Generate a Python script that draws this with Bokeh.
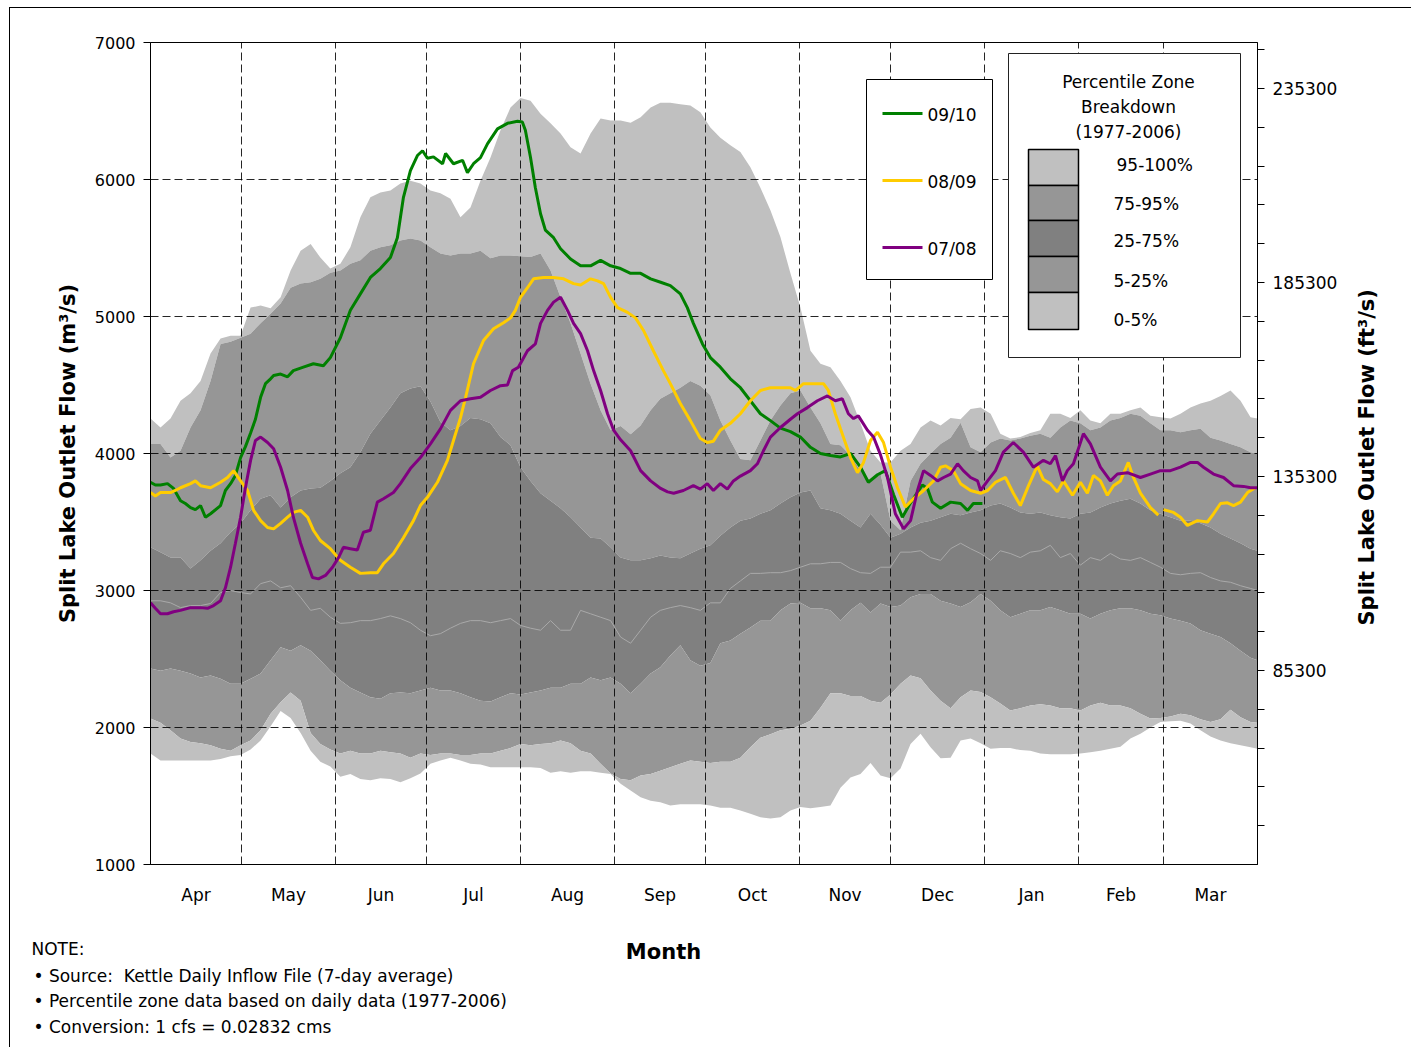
from math import pi
from bokeh.plotting import figure
from bokeh.layouts import column, row
from bokeh.models import (Range1d, LinearAxis, FixedTicker, Label, ColumnDataSource,
                          BasicTickFormatter)
from bokeh.embed import file_html
from bokeh.resources import INLINE

# ---------------- data ----------------
MONTHS = ["Apr", "May", "Jun", "Jul", "Aug", "Sep", "Oct", "Nov", "Dec", "Jan", "Feb", "Mar"]
MONTH_STARTS = [30, 61, 91, 122, 153, 183, 214, 244, 275, 306, 334]
MONTH_MIDS = [15.0, 45.5, 76.0, 106.5, 137.5, 168.0, 198.5, 229.0, 259.5, 290.5, 320.0, 349.5]
LEFT_TICKS = [1000, 2000, 3000, 4000, 5000, 6000, 7000]
RIGHT_TICKS = [35300, 85300, 135300, 185300, 235300]
RIGHT_MINOR = [45300, 55300, 65300, 75300, 95300, 105300, 115300, 125300, 145300, 155300,
               165300, 175300, 195300, 205300, 215300, 225300, 245300]
CMS_PER_CFS = 0.02832

BAND_DAYS = [0.0, 3.3, 6.6, 9.9, 13.2, 16.5, 19.8, 23.1, 26.4, 29.7,
             33.0, 36.3, 39.6, 42.9, 46.2, 49.5, 52.8, 56.0, 59.3, 62.6,
             65.9, 69.2, 72.5, 75.8, 79.1, 82.4, 85.7, 89.0, 92.3, 95.6,
             98.9, 102.2, 105.5, 108.8, 112.1, 115.4, 118.7, 122.0, 125.3, 128.6,
             131.9, 135.2, 138.5, 141.8, 145.1, 148.4, 151.7, 155.0, 158.3, 161.6,
             164.9, 168.1, 171.4, 174.7, 178.0, 181.3, 184.6, 187.9, 191.2, 194.5,
             197.8, 201.1, 204.4, 207.7, 211.0, 214.3, 217.6, 220.9, 224.2, 227.5,
             230.8, 234.1, 237.4, 240.7, 244.0, 247.3, 250.6, 253.9, 257.2, 260.5,
             263.8, 267.1, 270.4, 273.7, 277.0, 280.2, 283.5, 286.8, 290.1, 293.4,
             296.7, 300.0, 303.3, 306.6, 309.9, 313.2, 316.5, 319.8, 323.1, 326.4,
             329.7, 333.0, 336.3, 339.6, 342.9, 346.2, 349.5, 352.8, 356.1, 359.4,
             362.7, 365.0]

P100 = [4255, 4190, 4255, 4385, 4440, 4530, 4730, 4840, 4860, 4860,
        5065, 5080, 5060, 5140, 5335, 5480, 5530, 5430, 5350, 5385,
        5505, 5725, 5870, 5905, 5920, 5970, 5990, 5970, 5920, 5900,
        5860, 5725, 5795, 5990, 6160, 6360, 6525, 6595, 6575, 6480,
        6410, 6335, 6235, 6190, 6335, 6445, 6430, 6430, 6415, 6455,
        6525, 6560, 6560, 6550, 6540, 6490, 6380, 6305, 6250, 6200,
        6090, 5940, 5775, 5580, 5315, 5065, 4750, 4655, 4630, 4530,
        4410, 4220, 4020, 3935, 3935, 4020, 4070, 4190, 4240, 4205,
        4260, 4250, 4325, 4335, 4290, 4145, 4110, 4120, 4150, 4170,
        4290, 4290, 4260, 4315, 4240, 4220, 4290, 4290, 4315, 4335,
        4275, 4265, 4255, 4290, 4335, 4365, 4385, 4420, 4460, 4385,
        4265, 4255]

P95 = [4070, 4070, 3970, 4020, 4190, 4315, 4530, 4800, 4815, 4845,
       4875, 4950, 5020, 5095, 5210, 5240, 5250, 5275, 5320, 5335,
       5385, 5410, 5480, 5505, 5520, 5555, 5570, 5555, 5505, 5460,
       5445, 5460, 5460, 5480, 5425, 5445, 5445, 5440, 5435, 5460,
       5335, 5140, 4950, 4730, 4510, 4315, 4170, 4200, 4140, 4205,
       4315, 4400, 4440, 4480, 4530, 4495, 4425, 4240, 4095, 3960,
       3950, 4095, 4240, 4350, 4440, 4460, 4335, 4220, 4070, 4060,
       3985, 3875, 3800, 3855, 3510, 3440, 3800, 3925, 4000, 4070,
       4115, 4225, 4045, 4010, 4080, 4110, 4095, 4110, 4130, 4145,
       4115, 4190, 4240, 4220, 4170, 4190, 4240, 4260, 4290, 4275,
       4220, 4170, 4170, 4155, 4170, 4180, 4115, 4095, 4070, 4045,
       4010, 4000]

P75 = [3315, 3280, 3240, 3240, 3160, 3220, 3290, 3345, 3425, 3490,
       3585, 3670, 3695, 3605, 3680, 3730, 3745, 3750, 3800, 3855,
       3900, 4010, 4145, 4240, 4335, 4440, 4475, 4490, 4380, 4230,
       4170, 4200, 4260, 4250, 4220, 4120, 4060, 3900, 3800, 3710,
       3655, 3600, 3535, 3460, 3385, 3380, 3315, 3240, 3220, 3220,
       3235, 3255, 3240, 3235, 3270, 3305, 3330, 3400, 3460, 3510,
       3525, 3560, 3585, 3635, 3680, 3715, 3730, 3600, 3585, 3560,
       3510, 3460, 3560, 3480, 3385, 3415, 3460, 3495, 3510, 3535,
       3560, 3550, 3570, 3585, 3620, 3635, 3605, 3570, 3560, 3570,
       3550, 3535, 3525, 3560, 3570, 3605, 3635, 3655, 3670, 3635,
       3585, 3560, 3535, 3510, 3510, 3490, 3460, 3415, 3380, 3345,
       3305, 3290]

P50 = [2925, 2925, 2910, 2875, 2890, 2890, 2905, 2985, 3000, 2985,
       2975, 3050, 3070, 3020, 3035, 2950, 2855, 2870, 2805, 2760,
       2765, 2780, 2780, 2795, 2815, 2795, 2765, 2710, 2670, 2685,
       2725, 2760, 2780, 2780, 2765, 2780, 2795, 2745, 2725, 2710,
       2780, 2710, 2710, 2855, 2830, 2805, 2780, 2660, 2615, 2710,
       2805, 2855, 2875, 2890, 2875, 2855, 2910, 2910, 3015, 3070,
       3125, 3125, 3130, 3130, 3145, 3170, 3195, 3195, 3205, 3205,
       3160, 3130, 3125, 3170, 3170, 3280, 3280, 3290, 3240, 3220,
       3305, 3345, 3305, 3270, 3220, 3290, 3270, 3240, 3280, 3290,
       3330, 3240, 3270, 3185, 3240, 3220, 3270, 3230, 3220, 3240,
       3205, 3170, 3125, 3115, 3125, 3130, 3095, 3070, 3060, 3035,
       3015, 3000]

P25 = [2430, 2415, 2430, 2415, 2395, 2365, 2380, 2355, 2320, 2320,
       2355, 2395, 2490, 2585, 2560, 2600, 2560, 2490, 2415, 2345,
       2290, 2255, 2220, 2210, 2250, 2255, 2250, 2270, 2290, 2270,
       2270, 2250, 2220, 2195, 2190, 2220, 2250, 2240, 2255, 2270,
       2290, 2290, 2320, 2320, 2365, 2345, 2365, 2320, 2250, 2320,
       2395, 2440, 2525, 2600, 2490, 2450, 2470, 2615, 2635, 2685,
       2730, 2780, 2780, 2855, 2905, 2910, 2870, 2870, 2855, 2780,
       2855, 2910, 2840, 2905, 2880, 2890, 2950, 2975, 2975, 2925,
       2905, 2880, 2915, 2975, 2925, 2855, 2805, 2830, 2855, 2855,
       2880, 2855, 2830, 2830, 2795, 2830, 2855, 2870, 2870, 2855,
       2830, 2820, 2795, 2780, 2760, 2710, 2685, 2660, 2615, 2560,
       2510, 2490]

P5 = [2065, 2035, 1980, 1920, 1895, 1885, 1870, 1845, 1830, 1870,
      1905, 1980, 2100, 2185, 2255, 2195, 1960, 1880, 1840, 1810,
      1830, 1810, 1810, 1830, 1820, 1810, 1780, 1810, 1800, 1810,
      1810, 1800, 1800, 1810, 1810, 1830, 1850, 1880, 1870, 1880,
      1885, 1905, 1885, 1830, 1810, 1735, 1665, 1625, 1615, 1650,
      1660, 1685, 1710, 1735, 1760, 1750, 1740, 1750, 1750, 1780,
      1855, 1925, 1950, 1980, 1990, 2015, 2050, 2145, 2250, 2250,
      2230, 2230, 2195, 2180, 2240, 2320, 2380, 2360, 2270, 2195,
      2140, 2220, 2270, 2260, 2220, 2175, 2125, 2140, 2160, 2170,
      2160, 2140, 2140, 2125, 2160, 2180, 2160, 2160, 2140, 2100,
      2065, 2070, 2080, 2100, 2090, 2060, 2040, 2060, 2130, 2075,
      2040, 2035]

P0 = [1810, 1760, 1760, 1760, 1760, 1760, 1760, 1770, 1790, 1800,
      1840, 1905, 2010, 2120, 2070, 1960, 1830, 1750, 1715, 1640,
      1660, 1625, 1615, 1630, 1625, 1600, 1630, 1665, 1735, 1760,
      1780, 1760, 1735, 1730, 1710, 1710, 1710, 1710, 1710, 1705,
      1670, 1680, 1670, 1680, 1680, 1670, 1660, 1590, 1540, 1490,
      1465, 1455, 1430, 1440, 1440, 1440, 1430, 1415, 1415, 1395,
      1370, 1345, 1335, 1345, 1395, 1420, 1410, 1420, 1430, 1560,
      1635, 1660, 1740, 1650, 1630, 1700, 1880, 1955, 1855, 1775,
      1780, 1905, 1920, 1885, 1845, 1850, 1850, 1835, 1830, 1810,
      1805, 1805, 1805, 1810, 1820, 1830, 1845, 1860, 1920, 1955,
      2000, 2040, 2045, 2050, 2030, 1980, 1935, 1905, 1885, 1870,
      1855, 1845]

# 09/10 (green)
G_DAYS = [0, 1.6, 3.3, 5.6, 7.6, 9.9, 11.5, 13.2, 14.8, 16.5,
          18.1, 19.8, 23.1, 24.7, 26.4, 28.0, 29.7, 31.3, 33.0, 34.6,
          36.3, 37.9, 39.6, 40.6, 42.9, 45.2, 47.1, 50.4, 53.7, 57.0,
          59.3, 62.6, 65.9, 69.2, 72.5, 75.8, 79.1, 81.4, 83.4, 85.7,
          88.0, 89.7, 91.3, 93.3, 96.3, 97.3, 99.9, 102.9, 104.5, 106.5,
          108.8, 111.1, 114.4, 117.7, 121.0, 122.6, 123.6, 125.3, 126.9, 128.6,
          130.2, 132.9, 135.2, 138.5, 141.8, 145.1, 148.4, 151.7, 155.0, 158.3,
          161.6, 164.9, 168.2, 171.4, 174.7, 177.0, 179.0, 182.0, 184.6, 187.9,
          191.2, 194.5, 197.8, 201.1, 204.4, 207.7, 211.0, 214.3, 217.6, 220.9,
          224.2, 227.5, 230.8, 234.1, 236.7, 239.7, 242.3, 245.0, 247.9, 250.6,
          254.5, 256.2, 257.8, 260.5, 263.8, 267.1, 269.4, 271.3, 274.3]
G_VALS = [3790, 3770, 3770, 3780, 3745, 3655, 3635, 3605, 3590, 3620,
          3535, 3560, 3620, 3730, 3780, 3840, 3970, 4050, 4150, 4250,
          4410, 4510, 4545, 4570, 4580, 4560, 4605, 4630, 4655, 4640,
          4700, 4845, 5045, 5165, 5285, 5350, 5430, 5575, 5870, 6065,
          6175, 6210, 6155, 6165, 6115, 6190, 6115, 6140, 6050, 6115,
          6160, 6260, 6370, 6410, 6425, 6420, 6360, 6160, 5940, 5750,
          5630, 5575, 5495, 5420, 5370, 5370, 5410, 5370, 5350, 5315,
          5315, 5275, 5250, 5225, 5165, 5065, 4950, 4800, 4700, 4630,
          4545, 4480, 4385, 4290, 4240, 4185, 4160, 4120, 4045, 4000,
          3985, 3975, 4000, 3900, 3790, 3845, 3875, 3700, 3535, 3640,
          3770, 3745, 3645, 3600, 3645, 3635, 3585, 3635, 3635]

# 08/09 (yellow) - one missing day leaves a gap
Y_DAYS = [0, 1.6, 3.3, 6.6, 8.2, 9.9, 13.2, 14.8, 16.5, 19.8,
          23.1, 25.4, 27.4, 29.7, 32.0, 34.0, 36.3, 38.6, 40.6, 42.9,
          45.2, 47.1, 49.5, 51.8, 53.7, 56.0, 59.3, 62.6, 65.9, 69.2,
          72.5, 74.8, 76.8, 80.1, 83.4, 86.7, 89.0, 91.3, 94.6, 97.9,
          99.9, 102.2, 103.9, 106.5, 109.8, 113.1, 116.4, 118.7, 120.3, 122.0,
          124.3, 126.3, 129.6, 132.9, 136.2, 139.5, 141.8, 145.1, 147.4, 149.4,
          151.7, 154.0, 157.3, 159.9, 162.5, 165.8, 169.1, 171.4, 174.7, 178.0,
          181.3, 183.6, 185.6, 187.9, 191.2, 194.5, 197.8, 201.1, 204.4, 207.7,
          211.0, 212.7, 215.3, 218.6, 221.9, 223.5, 225.8, 227.5, 230.8, 233.1,
          235.1, 237.4, 239.7, 241.7, 244.0, 246.3, 248.9, 251.5, 254.9, 258.2,
          260.5, 262.1, 264.7, 267.1, 270.4, 273.7, 276.0, 278.6, 281.9, 284.5,
          286.8, 289.5, 292.4, 294.4, 296.7, 299.0, 301.0, 304.0, 306.6, 308.9,
          310.9, 313.2, 315.5, 317.5, 319.8, 322.4, 324.1, 326.4, 329.7, 332.3,
          333.2, 334.0, 337.3, 339.6, 341.9, 345.2, 348.5, 350.5, 352.8, 355.1,
          357.1, 359.4, 361.7, 364.3]
NAN = float("nan")
Y_VALS = [3715, 3690, 3715, 3715, 3730, 3750, 3780, 3800, 3765, 3750,
          3790, 3825, 3875, 3800, 3730, 3585, 3510, 3460, 3450, 3490,
          3535, 3570, 3585, 3535, 3440, 3365, 3305, 3220, 3170, 3125,
          3130, 3130, 3195, 3270, 3385, 3510, 3620, 3680, 3790, 3950,
          4095, 4260, 4410, 4655, 4825, 4910, 4955, 4990, 5045, 5140,
          5210, 5275, 5285, 5285, 5275, 5240, 5230, 5275, 5260, 5240,
          5140, 5065, 5030, 4990, 4900, 4750, 4605, 4510, 4365, 4240,
          4110, 4080, 4090, 4170, 4220, 4290, 4385, 4460, 4480, 4480,
          4480, 4460, 4510, 4510, 4510, 4460, 4290, 4180, 3970, 3860,
          3935, 4095, 4155, 4080, 3900, 3750, 3610, 3670, 3730, 3800,
          3900, 3910, 3875, 3780, 3730, 3710, 3730, 3790, 3825, 3710,
          3620, 3765, 3910, 3810, 3780, 3720, 3800, 3695, 3790, 3710,
          3840, 3800, 3695, 3765, 3800, 3935, 3825, 3710, 3605, 3550,
          NAN, 3590, 3570, 3535, 3475, 3510, 3500, 3560, 3635, 3640,
          3620, 3645, 3715, 3750]

# 07/08 (purple)
PU_DAYS = [0, 1.6, 3.3, 5.6, 7.6, 9.9, 13.2, 16.5, 18.8, 20.8,
           23.1, 24.7, 26.4, 28.0, 29.7, 31.3, 33.0, 34.6, 36.3, 38.6,
           40.6, 42.9, 45.2, 47.1, 49.5, 51.8, 53.4, 55.4, 57.7, 60.0,
           62.0, 63.6, 65.9, 68.2, 70.2, 72.5, 74.8, 76.8, 80.1, 82.4,
           85.7, 89.0, 92.3, 95.6, 98.9, 102.2, 105.5, 108.8, 112.1, 115.4,
           117.7, 119.4, 121.3, 124.3, 126.9, 128.6, 130.9, 132.9, 135.2, 137.5,
           139.5, 141.8, 144.1, 146.1, 148.4, 150.7, 152.7, 155.0, 158.3, 161.6,
           164.9, 168.2, 170.5, 172.5, 175.7, 179.0, 181.3, 183.6, 185.6, 187.9,
           190.2, 192.2, 194.5, 197.8, 200.1, 202.1, 204.4, 207.7, 211.0, 213.3,
           216.6, 219.9, 223.2, 225.8, 228.1, 230.1, 231.8, 233.4, 236.4, 238.4,
           240.7, 243.0, 245.6, 248.3, 250.6, 252.9, 254.9, 257.2, 259.5, 261.5,
           263.8, 266.1, 268.0, 270.4, 272.7, 273.7, 276.0, 278.6, 281.2, 284.5,
           287.8, 291.1, 294.4, 296.7, 298.4, 300.7, 302.3, 304.3, 307.6, 309.9,
           313.2, 316.5, 318.8, 322.1, 326.4, 329.7, 333.0, 336.3, 339.6, 342.9,
           345.2, 347.2, 350.5, 353.8, 357.1, 360.4, 362.7, 365.0]
PU_VALS = [2910, 2870, 2830, 2830, 2845, 2855, 2875, 2875, 2870, 2890,
           2925, 3020, 3170, 3345, 3535, 3750, 3950, 4095, 4120, 4080,
           4035, 3900, 3730, 3535, 3345, 3195, 3095, 3085, 3110, 3170,
           3240, 3315, 3305, 3295, 3425, 3440, 3645, 3670, 3715, 3780,
           3890, 3970, 4070, 4180, 4315, 4385, 4400, 4410, 4460, 4495,
           4500, 4605, 4630, 4750, 4800, 4950, 5045, 5105, 5140, 5045,
           4950, 4875, 4750, 4605, 4460, 4290, 4170, 4100, 4020, 3875,
           3800, 3745, 3720, 3710, 3730, 3765, 3740, 3780, 3730, 3780,
           3740, 3800, 3835, 3875, 3925, 4020, 4120, 4190, 4250, 4290,
           4335, 4385, 4420, 4385, 4400, 4290, 4255, 4275, 4170, 4120,
           3990, 3825, 3560, 3450, 3510, 3730, 3875, 3840, 3800, 3825,
           3850, 3925, 3875, 3825, 3800, 3730, 3800, 3875, 4010, 4080,
           4010, 3900, 3950, 3925, 3985, 3800, 3875, 3925, 4145, 4070,
           3900, 3800, 3850, 3860, 3825, 3850, 3875, 3875, 3900, 3935,
           3935, 3900, 3850, 3825, 3765, 3760, 3750, 3750]

SERIES_NAMES = ["09/10", "08/09", "07/08"]
ZONE_NAMES = ["95-100%", "75-95%", "25-75%", "5-25%", "0-5%"]
NOTES = ["NOTE:",
         "• Source:\u00a0 Kettle Daily Inflow File (7-day average)",
         "• Percentile zone data based on daily data (1977-2006)",
         "• Conversion: 1 cfs = 0.02832 cms"]

# ---------------- styles / layout ----------------
LIGHT, MID, DARK = "#C0C0C0", "#969696", "#808080"
GREEN, YELLOW, PURPLE = "#008000", "#FFCC00", "#800080"
FONT = "DejaVu Sans"

ORIGIN_X, ORIGIN_Y = 10, 8          # page position of the content (inside the outer border)
FX0, FX1, FY0, FY1 = 150.0, 1257.0, 42.0, 864.0   # frame on the page
XMIN, XMAX, YMIN, YMAX = 0.0, 365.0, 1000.0, 7000.0
MAIN_W, MAIN_H = 1335, 927
SIDE_W = 66
NOTE_H = 112
FRAME_W, FRAME_H = int(FX1 - FX0), int(FY1 - FY0)


def dx(px):
    return XMIN + (px - FX0) / (FX1 - FX0) * (XMAX - XMIN)


def dy(py):
    return YMAX - (py - FY0) / (FY1 - FY0) * (YMAX - YMIN)


p = figure(frame_width=FRAME_W, frame_height=FRAME_H,
           min_border_left=int(FX0 - ORIGIN_X), min_border_top=int(FY0 - ORIGIN_Y),
           min_border_right=MAIN_W - int(FX1 - ORIGIN_X),
           min_border_bottom=MAIN_H - int(FY1 - ORIGIN_Y),
           x_range=Range1d(XMIN, XMAX), y_range=Range1d(YMIN, YMAX),
           output_backend="svg", toolbar_location=None,
           background_fill_color="white", border_fill_color="white")
p.outline_line_color = "black"
p.outline_line_width = 1

# percentile bands
src = ColumnDataSource(dict(d=BAND_DAYS, p0=P0, p5=P5, p25=P25, p50=P50, p75=P75, p95=P95, p100=P100))
p.varea(x="d", y1="p95", y2="p100", source=src, fill_color=LIGHT, level="image")
p.varea(x="d", y1="p75", y2="p95", source=src, fill_color=MID, level="image")
p.varea(x="d", y1="p25", y2="p75", source=src, fill_color=DARK, level="image")
p.varea(x="d", y1="p5", y2="p25", source=src, fill_color=MID, level="image")
p.varea(x="d", y1="p0", y2="p5", source=src, fill_color=LIGHT, level="image")
p.line(x="d", y="p50", source=src, line_color="#A9A9A9", line_width=1, level="image")

# grid
p.xgrid.ticker = FixedTicker(ticks=MONTH_STARTS)
p.ygrid.ticker = FixedTicker(ticks=[2000, 3000, 4000, 5000, 6000])
for g in (p.xgrid, p.ygrid):
    g.grid_line_color = "black"
    g.grid_line_width = 1
    g.grid_line_dash = "8 4"
    g.grid_line_alpha = 0.85

# series lines
p.line(G_DAYS, G_VALS, line_color=GREEN, line_width=3)
p.line(Y_DAYS, Y_VALS, line_color=YELLOW, line_width=3)
p.line(PU_DAYS, PU_VALS, line_color=PURPLE, line_width=3)

# axes
xa = p.xaxis[0]
xa.ticker = FixedTicker(ticks=MONTH_MIDS)
xa.major_label_overrides = {m: n for m, n in zip(MONTH_MIDS, MONTHS)}
xa.major_tick_out = 0
xa.major_tick_in = 0
xa.minor_tick_out = 0
xa.minor_tick_in = 0
xa.major_label_standoff = 20
xa.major_label_text_font = FONT
xa.major_label_text_font_size = "17px"
xa.major_label_text_color = "black"
xa.axis_line_color = "black"

ya = p.yaxis[0]
ya.ticker = FixedTicker(ticks=LEFT_TICKS)
ya.major_tick_out = 7
ya.major_tick_in = 0
ya.minor_tick_out = 0
ya.minor_tick_in = 0
ya.major_label_standoff = 8
ya.major_label_text_font = FONT
ya.major_label_text_font_size = "16px"
ya.major_label_text_color = "black"
ya.axis_line_color = "black"
ya.axis_label = "Split Lake Outlet Flow (m³/s)"
ya.axis_label_text_font = FONT
ya.axis_label_text_font_size = "21px"
ya.axis_label_text_font_style = "bold"
ya.axis_label_text_color = "black"
ya.axis_label_standoff = 12

p.extra_y_ranges = {"cfs": Range1d(YMIN / CMS_PER_CFS, YMAX / CMS_PER_CFS)}
ra = LinearAxis(y_range_name="cfs", ticker=FixedTicker(ticks=RIGHT_TICKS, minor_ticks=RIGHT_MINOR),
                formatter=BasicTickFormatter(use_scientific=False))
ra.major_tick_out = 7
ra.major_tick_in = 0
ra.minor_tick_out = 7
ra.minor_tick_in = 0
ra.major_label_standoff = 8
ra.major_label_text_font = FONT
ra.major_label_text_font_size = "17px"
ra.major_label_text_color = "black"
ra.axis_line_color = "black"
p.add_layout(ra, "right")

# line legend
p.quad(left=dx(866), right=dx(992), top=dy(79), bottom=dy(279),
       fill_color="white", line_color="black", line_width=1)
for name, col, yy in zip(SERIES_NAMES, [GREEN, YELLOW, PURPLE], [113, 180, 247]):
    p.segment(x0=dx(882), y0=dy(yy), x1=dx(922), y1=dy(yy), line_color=col, line_width=3)
    p.add_layout(Label(x=dx(927), y=dy(yy + 1), text=name, text_font=FONT, text_font_size="17px",
                       text_color="black", text_align="left", text_baseline="middle"))

# percentile legend
p.quad(left=dx(1008), right=dx(1240), top=dy(53), bottom=dy(357),
       fill_color="white", line_color="#222222", line_width=1)
for txt, yy in zip(["Percentile Zone", "Breakdown", "(1977-2006)"], [81, 106, 131]):
    p.add_layout(Label(x=dx(1128), y=dy(yy), text=txt, text_font=FONT, text_font_size="17px",
                       text_color="black", text_align="center", text_baseline="middle"))
sw_tops = [149, 185, 220, 256, 292]
sw_bots = [185, 220, 256, 292, 329]
sw_cols = [LIGHT, MID, DARK, MID, LIGHT]
p.quad(left=[dx(1028)] * 5, right=[dx(1078)] * 5,
       top=[dy(t) for t in sw_tops], bottom=[dy(b) for b in sw_bots],
       fill_color=sw_cols, line_color="black", line_width=1.5)
for txt, xx, yy in zip(ZONE_NAMES, [1116, 1113, 1113, 1113, 1113], [164, 203, 240, 280, 319]):
    p.add_layout(Label(x=dx(xx), y=dy(yy), text=txt, text_font=FONT, text_font_size="17px",
                       text_color="black", text_align="left", text_baseline="middle"))


def blank(w, h):
    f = figure(frame_width=w, frame_height=h, x_range=Range1d(0, w), y_range=Range1d(0, h),
               min_border=0, min_border_left=0, min_border_right=0, min_border_top=0,
               min_border_bottom=0, x_axis_location=None, y_axis_location=None,
               output_backend="svg", toolbar_location=None,
               background_fill_color="white", border_fill_color="white")
    f.outline_line_color = None
    f.grid.visible = False
    return f


# right-hand axis title (reads bottom to top, like the left one).
# Its strip sits in the same row as the chart, so its frame lines up with the chart frame.
side = blank(SIDE_W, FRAME_H)
side_left = ORIGIN_X + MAIN_W
side.add_layout(Label(x=1366 - side_left, y=FY1 - 625,
                      text="Split Lake Outlet Flow (ft³/s)", angle=pi / 2,
                      text_font=FONT, text_font_size="21px", text_font_style="bold",
                      text_color="black", text_align="left", text_baseline="middle"))

# notes strip with the x-axis title
notes = blank(MAIN_W + SIDE_W, NOTE_H)
notes_top = ORIGIN_Y + MAIN_H
notes.add_layout(Label(x=663 - ORIGIN_X, y=NOTE_H - (951 - notes_top), text="Month",
                       text_font=FONT, text_font_size="21px", text_font_style="bold",
                       text_color="black", text_align="center", text_baseline="middle"))
for txt, xx, yy in zip(NOTES, [31, 33, 33, 33], [948, 975, 1000, 1026]):
    notes.add_layout(Label(x=xx - ORIGIN_X, y=NOTE_H - (yy - notes_top), text=txt,
                           text_font=FONT, text_font_size="17px", text_color="black",
                           text_align="left", text_baseline="middle"))

root = column(row(p, side), notes)
root.styles = {"margin-left": "9px", "margin-top": "7px",
               "border-left": "1px solid #000", "border-top": "1px solid #000"}

open("out.html", "w").write(file_html(root, INLINE))
